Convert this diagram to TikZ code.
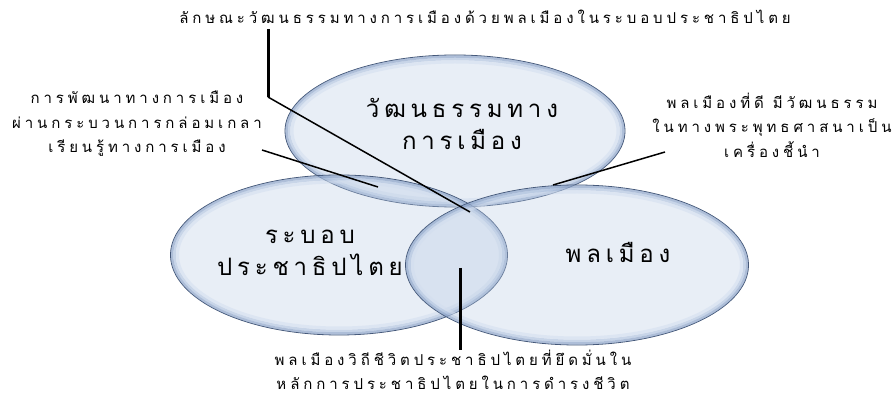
\documentclass[tikz,border=0pt]{standalone}
\usepackage{fontspec}
\newfontfamily\thai[Script=Thai,LetterSpace=26]{Loma}
\newfontfamily\thaibig[Script=Thai,LetterSpace=20]{Loma}
\usetikzlibrary{shapes.geometric}
\definecolor{fillc}{HTML}{B8CAE3}
\definecolor{rimA}{HTML}{7F98C0}
\definecolor{rimB}{HTML}{A9BDDC}
\definecolor{rimD}{HTML}{D2DDEE}
\definecolor{rimC}{HTML}{3F5272}
\begin{document}
\begin{tikzpicture}[x=1pt,y=-1pt,
  bubble/.style={ellipse, inner sep=0pt, fill=fillc, fill opacity=0.33, draw=rimC, line width=0.8pt},
  rimouter/.style={rimA, line width=2.5pt, opacity=0.55},
  rimmid/.style={rimB, line width=2.5pt, opacity=0.5},
  riminner/.style={rimD, line width=3pt, opacity=0.5},
  big/.style={font=\thaibig\fontsize{24}{32}\selectfont, align=center, inner sep=0pt},
  lbl/.style={font=\thai\fontsize{15}{24.5}\selectfont, align=center, inner sep=0pt},
  conn/.style={line width=1.5pt, black},
  stem/.style={line width=3pt, black}]
\useasboundingbox (0,0) rectangle (894,395);
% ellipses
\node[bubble, minimum width=340pt, minimum height=152pt] (eTop) at (455,131) {};
\draw[rimouter] (eTop.center) ellipse [x radius=168.5pt, y radius=74.5pt];
\draw[rimmid] (eTop.center) ellipse [x radius=166pt, y radius=72pt];
\draw[riminner] (eTop.center) ellipse [x radius=163pt, y radius=69pt];
\node[bubble, minimum width=337pt, minimum height=160pt] (eLeft) at (339,255) {};
\draw[rimouter] (eLeft.center) ellipse [x radius=167pt, y radius=78.5pt];
\draw[rimmid] (eLeft.center) ellipse [x radius=164.5pt, y radius=76pt];
\draw[riminner] (eLeft.center) ellipse [x radius=161.5pt, y radius=73pt];
\node[bubble, minimum width=343pt, minimum height=160pt] (eRight) at (577,265) {};
\draw[rimouter] (eRight.center) ellipse [x radius=170pt, y radius=78.5pt];
\draw[rimmid] (eRight.center) ellipse [x radius=167.5pt, y radius=76pt];
\draw[riminner] (eRight.center) ellipse [x radius=164.5pt, y radius=73pt];
% texts in ellipses
\node[big] (tTop) at (462,124) {วัฒนธรรมทาง\\การเมือง};
\node[big] (tLeft) at (310,253) {ระบอบ\\ประชาธิปไตย};
\node[big] (tRight) at (618,252) {พลเมือง};
% labels
\node[lbl] (lTop) at (485,17) {ลักษณะวัฒนธรรมทางการเมืองด้วยพลเมืองในระบอบประชาธิปไตย};
\node[lbl] (lLeft) at (137,124) {การพัฒนาทางการเมือง\\ผ่านกระบวนการกล่อมเกลา\\เรียนรู้ทางการเมือง};
\node[lbl] (lRight) at (772,125) {พลเมืองที่ดี มีวัฒนธรรม\\ในทางพระพุทธศาสนาเป็น\\เครื่องชี้นำ};
\node[lbl] (lBot) at (453,370) {พลเมืองวิถีชีวิตประชาธิปไตยที่ยึดมั่นใน\\หลักการประชาธิปไตยในการดำรงชีวิต};
% connectors
\coordinate (c1) at (268,97);
\coordinate (c1e) at (470,212);
\draw[stem] (c1 |- lTop.south) ++(0,5) -- (c1);
\draw[conn] (c1) -- (c1e);
\coordinate (c2s) at (262,150);
\coordinate (c2e) at (378,187);
\draw[conn] (c2s) -- (c2e);
\coordinate (c3s) at (665,152);
\coordinate (c3e) at (553,185);
\draw[conn] (c3s) -- (c3e);
\coordinate (c4s) at (460,268);
\draw[stem] (c4s) -- (c4s |- lBot.north);
\end{tikzpicture}
\end{document}
